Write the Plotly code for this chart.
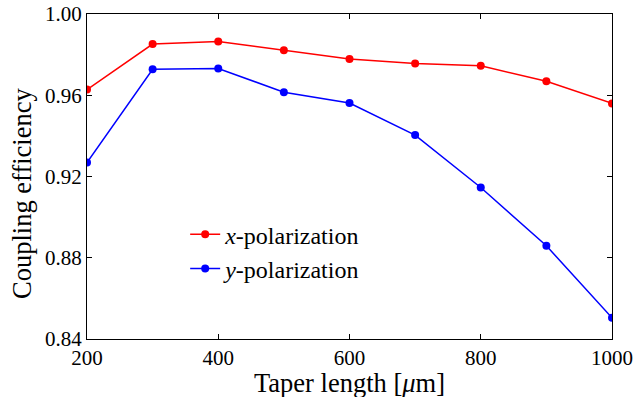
import plotly.graph_objects as go

taper_length = [200, 300, 400, 500, 600, 700, 800, 900, 1000]
x_pol = [0.9628, 0.9852, 0.9865, 0.9822, 0.9779, 0.9756, 0.9745, 0.9669, 0.9560]
y_pol = [0.9269, 0.9728, 0.9732, 0.9615, 0.9562, 0.9404, 0.9146, 0.8859, 0.8504]
x_ticks = [200, 400, 600, 800, 1000]
y_ticks = [0.84, 0.88, 0.92, 0.96, 1.00]
y_tick_labels = ["0.84", "0.88", "0.92", "0.96", "1.00"]
x_title = "Taper length [<i>μ</i>m]"
y_title = "Coupling efficiency"

FONT = "'Liberation Serif', 'Times New Roman', serif"

fig = go.Figure()
fig.add_trace(go.Scatter(x=taper_length, y=x_pol, mode="lines+markers",
                         name="<i>x</i>-polarization",
                         line=dict(color="#ff0000", width=1.5),
                         marker=dict(color="#ff0000", size=8)))
fig.add_trace(go.Scatter(x=taper_length, y=y_pol, mode="lines+markers",
                         name="<i>y</i>-polarization",
                         line=dict(color="#0000ff", width=1.5),
                         marker=dict(color="#0000ff", size=8)))

axis_common = dict(showgrid=False, zeroline=False, showline=True, linecolor="black",
                   linewidth=1.2, mirror="allticks", ticks="inside", ticklen=5,
                   tickcolor="black", tickwidth=1, automargin=False,
                   tickfont=dict(family=FONT, size=21, color="black"))

fig.update_xaxes(range=[200, 1000], tickvals=x_ticks, **axis_common)
fig.update_yaxes(range=[0.84, 1.00], tickvals=y_ticks, ticktext=y_tick_labels,
                 **axis_common)

fig.add_annotation(text=x_title, xref="paper", yref="paper", x=0.5, y=-0.134,
                   xanchor="center", yanchor="middle", showarrow=False,
                   font=dict(family=FONT, size=26.5, color="black"))
fig.add_annotation(text=y_title, xref="paper", yref="paper", x=-0.124, y=0.449,
                   xanchor="center", yanchor="middle", showarrow=False, textangle=-90,
                   font=dict(family=FONT, size=26.5, color="black"))

fig.update_layout(
    width=634, height=397,
    margin=dict(l=87, r=22, t=14, b=58, autoexpand=False),
    plot_bgcolor="white", paper_bgcolor="white",
    font=dict(family=FONT, color="black"),
    legend=dict(x=0.187, y=0.39, xanchor="left", yanchor="top",
                bgcolor="rgba(0,0,0,0)", font=dict(family=FONT, size=24, color="black")),
)

fig.write_html("out.html", config={"displayModeBar": False},
               post_script="document.body.style.margin='0';document.body.style.overflow='hidden';")
